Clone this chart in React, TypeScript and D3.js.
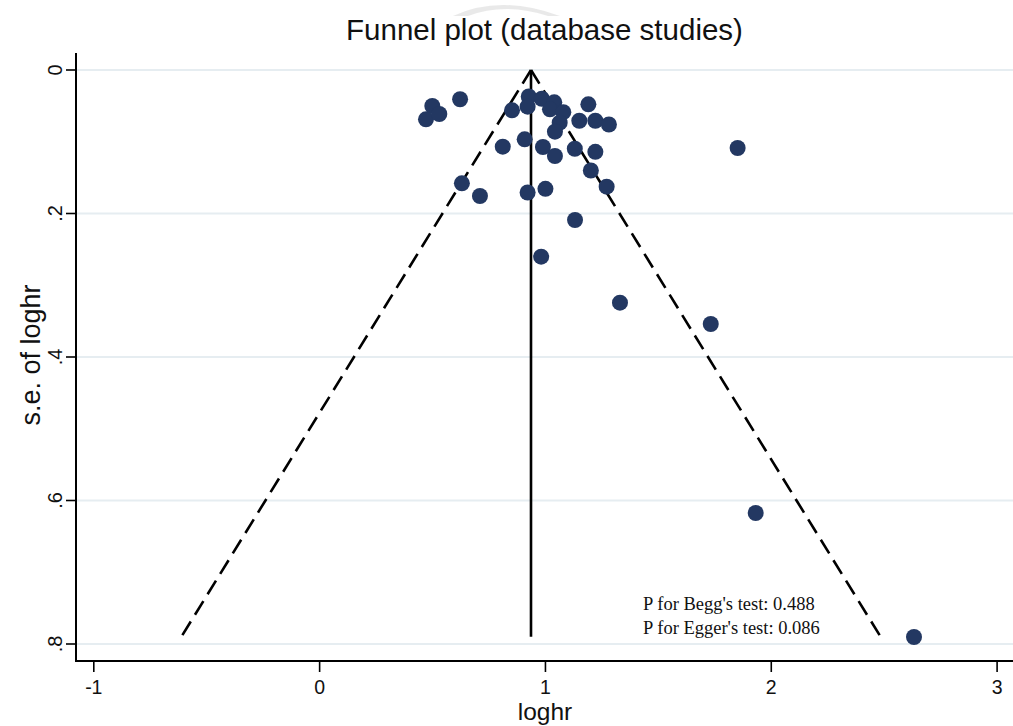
import React from "react";
import * as d3 from "d3";

// Study estimates: log hazard ratio and its standard error
const loghr = [
  0.499, 0.471, 0.53, 0.622, 0.852, 0.926, 0.921, 0.984, 1.039, 1.02, 1.079, 1.063,
  1.042, 1.19, 1.15, 1.221, 1.281, 0.811, 0.908, 0.989, 1.042, 1.13, 1.221, 1.201,
  1.271, 0.63, 0.71, 0.921, 1.0, 1.131, 0.981, 1.33, 1.851, 1.732, 1.931, 2.632,
];
const seLoghr = [
  0.0502, 0.0687, 0.0613, 0.0408, 0.0562, 0.0369, 0.0511, 0.0401, 0.045, 0.0548, 0.0588,
  0.0734, 0.086, 0.0478, 0.0707, 0.0707, 0.076, 0.1069, 0.0966, 0.1073, 0.1199, 0.1098,
  0.114, 0.1401, 0.1626, 0.1579, 0.1756, 0.1707, 0.1656, 0.2091, 0.2602, 0.3243, 0.1087,
  0.354, 0.6174, 0.7902,
];

const pooled = 0.936;
const seMax = 0.79;

const xTicks = [-1, 0, 1, 2, 3];
const yTicks = [0, 0.2, 0.4, 0.6, 0.8];
const yTickLabels = ["0", ".2", ".4", ".6", ".8"];
const notes = ["P for Begg's test: 0.488", "P for Egger's test: 0.086"];

const W = 1013;
const H = 726;
const axisX = 76;
const axisY = 661;

export default function App() {
  const x = d3.scaleLinear().domain([-1, 3]).range([93.8, 997.1]);
  const y = d3.scaleLinear().domain([0, 0.8]).range([70, 644]);

  const line = d3
    .line<[number, number]>()
    .x((d) => x(d[0]))
    .y((d) => y(d[1]));

  const leftLimit: [number, number][] = [
    [pooled, 0],
    [pooled - 1.96 * seMax, seMax],
  ];
  const rightLimit: [number, number][] = [
    [pooled, 0],
    [pooled + 1.96 * seMax, seMax],
  ];
  const center: [number, number][] = [
    [pooled, 0],
    [pooled, seMax],
  ];

  const sans = "Arial, 'Liberation Sans', Helvetica, sans-serif";
  const serif = "'Times New Roman', 'Liberation Serif', serif";

  return (
    <svg
      width={W}
      height={H}
      style={{ position: "absolute", left: 0, top: 0, background: "#fff" }}
    >
      <rect x={0} y={0} width={W} height={H} fill="#fff" />
      {/* faint mark behind the title */}
      <path
        d="M453,16 Q500,-6 560,16 L548,16 Q505,2 468,16 Z"
        fill="#e4e4e4"
        opacity={0.8}
      />
      <text
        x={544.5}
        y={40}
        textAnchor="middle"
        fontFamily={sans}
        fontSize={29.5}
        fill="#111"
      >
        Funnel plot (database studies)
      </text>

      {/* horizontal grid */}
      {yTicks.map((t) => (
        <line
          key={"g" + t}
          x1={axisX}
          x2={W}
          y1={y(t)}
          y2={y(t)}
          stroke="#e6edf1"
          strokeWidth={2.2}
        />
      ))}

      {/* pseudo 95% confidence limits */}
      <path
        d={line(leftLimit) || ""}
        fill="none"
        stroke="#000"
        strokeWidth={2.6}
        strokeDasharray="16 8"
      />
      <path
        d={line(rightLimit) || ""}
        fill="none"
        stroke="#000"
        strokeWidth={2.6}
        strokeDasharray="16 8"
      />
      <path d={line(center) || ""} fill="none" stroke="#000" strokeWidth={2.6} />

      {/* studies */}
      {loghr.map((v, i) => (
        <circle
          key={"p" + i}
          cx={x(v)}
          cy={y(seLoghr[i])}
          r={8}
          fill="#233862"
        />
      ))}

      {/* annotations */}
      {notes.map((n, i) => (
        <text
          key={"n" + i}
          x={643}
          y={610 + i * 24}
          fontFamily={serif}
          fontSize={18.5}
          fill="#111"
        >
          {n}
        </text>
      ))}

      {/* y axis */}
      <line x1={axisX} x2={axisX} y1={53} y2={axisY + 1} stroke="#000" strokeWidth={2} />
      {yTicks.map((t, i) => (
        <g key={"y" + t}>
          <line x1={axisX - 10} x2={axisX} y1={y(t)} y2={y(t)} stroke="#000" strokeWidth={1.6} />
          <text
            transform={`translate(${axisX - 14},${y(t)}) rotate(-90)`}
            textAnchor="middle"
            fontFamily={sans}
            fontSize={20}
            fill="#111"
          >
            {yTickLabels[i]}
          </text>
        </g>
      ))}
      <text
        transform={`translate(${40},${355}) rotate(-90)`}
        textAnchor="middle"
        fontFamily={sans}
        fontSize={27}
        fill="#111"
      >
        s.e. of loghr
      </text>

      {/* x axis */}
      <line x1={axisX - 1} x2={W} y1={axisY} y2={axisY} stroke="#000" strokeWidth={2} />
      {xTicks.map((t) => (
        <g key={"x" + t}>
          <line x1={x(t)} x2={x(t)} y1={axisY} y2={axisY + 11} stroke="#000" strokeWidth={1.6} />
          <text
            x={x(t)}
            y={694}
            textAnchor="middle"
            fontFamily={sans}
            fontSize={19.5}
            fill="#111"
          >
            {t}
          </text>
        </g>
      ))}
      <text x={545} y={720} textAnchor="middle" fontFamily={sans} fontSize={24.5} fill="#111">
        loghr
      </text>
    </svg>
  );
}
